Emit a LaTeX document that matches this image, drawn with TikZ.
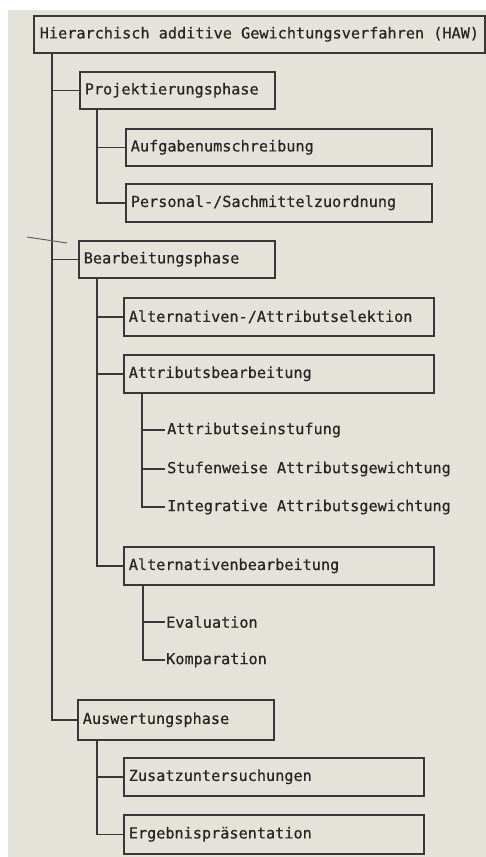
\documentclass[tikz,border=0pt]{standalone}
\usepackage{fontspec}
\setmonofont[FakeBold=0.6]{DejaVu Sans Mono}
\usetikzlibrary{calc}
\definecolor{paper}{HTML}{E3E3D9}
\definecolor{ink}{HTML}{262626}
\definecolor{rule}{HTML}{383838}
\tikzset{
  label text/.style={font=\ttfamily\fontsize{15.2}{18}\selectfont, text=ink},
  phasebox/.style={label text, draw=rule, line width=1.6pt, anchor=north west,
    inner xsep=5pt, inner ysep=0pt, align=left, minimum height=#1},
  phasebox/.default=37pt,
  leaf/.style={label text, anchor=west, inner sep=0pt},
  branch/.style={draw=rule, line width=1.6pt},
}
\begin{document}
\begin{tikzpicture}[x=1pt,y=-1pt]
  \useasboundingbox (0,0) rectangle (486,857);
  \fill[white] (0,0) rectangle (486,857);
  \fill[paper] (8,10) rectangle (486,857);

  % root
  \node[label text, draw=rule, line width=1.6pt, anchor=north west,
        inner xsep=6pt, inner ysep=0pt, minimum height=37pt] (haw) at (33,15)
    {\makebox[439pt][l]{Hierarchisch additive Gewichtungsverfahren (HAW)}};

  % phases
  \node[phasebox, text width=185pt] (proj)  at (79,71)  {Projektierungsphase};
  \node[phasebox, text width=186pt] (bearb) at (78,240) {Bearbeitungsphase};
  \node[phasebox=40pt, text width=186pt] (ausw) at (77,699) {Auswertungsphase};

  % Projektierungsphase children
  \node[phasebox, text width=296pt] (aufg) at (125,128) {Aufgabenumschreibung};
  \node[phasebox=38pt, text width=296pt] (pers) at (125,183) {Personal-/Sachmittelzuordnung};

  % Bearbeitungsphase children
  \node[phasebox=38pt, text width=300pt] (sel)  at (123,297) {Alternativen-/Attributselektion};
  \node[phasebox=38pt, text width=300pt] (attr) at (123,354) {Attributsbearbeitung};
  \node[phasebox=38pt, text width=300pt] (alt)  at (123,546) {Alternativenbearbeitung};

  \node[leaf] (einst) at (167,430) {Attributseinstufung};
  \node[leaf] (stuf)  at (167,469) {Stufenweise Attributsgewichtung};
  \node[leaf] (integ) at (167,507) {Integrative Attributsgewichtung};
  \node[leaf] (eval)  at (166,622) {Evaluation};
  \node[leaf] (komp)  at (166,660) {Komparation};

  % Auswertungsphase children
  \node[phasebox=38pt, text width=290pt] (zus) at (123,757) {Zusatzuntersuchungen};
  \node[phasebox=39pt, text width=290pt] (erg) at (123,814) {Ergebnispräsentation};

  % trunk from the root
  \coordinate (t0) at (haw.south -| 52,0);
  \draw[branch] (t0) |- (proj.west);
  \draw[branch] (t0) |- (bearb.west);
  \draw[branch] (t0) |- (ausw.west);

  % Projektierungsphase branch
  \coordinate (p0) at (proj.south -| 97,0);
  \draw[branch] (p0) |- (aufg.west);
  \draw[branch] (p0) |- (pers.west);

  % Bearbeitungsphase branch
  \coordinate (b0) at (bearb.south -| 97,0);
  \draw[branch] (b0) |- (sel.west);
  \draw[branch] (b0) |- (attr.west);
  \draw[branch] (b0) |- (alt.west);

  \coordinate (a0) at (attr.south -| 142,0);
  \draw[branch] (a0) |- ($(einst.west)+(-2,0)$);
  \draw[branch] (a0) |- ($(stuf.west)+(-2,0)$);
  \draw[branch] (a0) |- ($(integ.west)+(-2,0)$);

  \coordinate (v0) at (alt.south -| 143,0);
  \draw[branch] (v0) |- ($(eval.west)+(-1,0)$);
  \draw[branch] (v0) |- ($(komp.west)+(-1,0)$);

  % Auswertungsphase branch
  \coordinate (w0) at (ausw.south -| 97,0);
  \draw[branch] (w0) |- (zus.west);
  \draw[branch] (w0) |- (erg.west);

  % stray pen stroke across the trunk
  \draw[rule!80, line width=1pt] (27,237) -- (67,243);
\end{tikzpicture}
\end{document}
